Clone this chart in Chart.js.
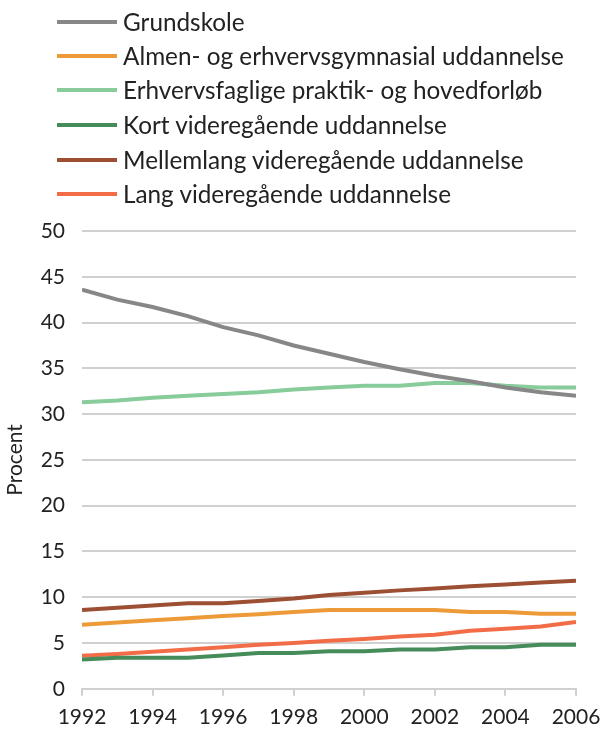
<!DOCTYPE html>
<html>
<head>
<meta charset="utf-8">
<script src="https://cdn.jsdelivr.net/npm/chart.js@4/dist/chart.umd.min.js"></script>
<style>
  html, body { margin: 0; padding: 0; background: #fff; }
  #wrap { position: relative; width: 604px; height: 735px; overflow: hidden; }
  #chart { position: absolute; left: 0; top: 0; }
  .lg { position: absolute; left: 0; height: 30px; font-family: Lato, sans-serif; font-size: 24.3px; color: #222; }
  .lg .sw { position: absolute; left: 57px; width: 60px; height: 4px; top: 13px; }
  .lg .tx { position: absolute; left: 123px; top: 0; line-height: 30px; white-space: nowrap; }
</style>
</head>
<body>
<div id="wrap">
  <canvas id="chart" width="604" height="744"></canvas>
  <div id="legend"></div>
</div>
<script>
const years = [1992, 1993, 1994, 1995, 1996, 1997, 1998, 1999, 2000, 2001, 2002, 2003, 2004, 2005, 2006];
const seriesNames = [
  "Grundskole",
  "Almen- og erhvervsgymnasial uddannelse",
  "Erhvervsfaglige praktik- og hovedforløb",
  "Kort videregående uddannelse",
  "Mellemlang videregående uddannelse",
  "Lang videregående uddannelse"
];
const grundskole = [43.6, 42.5, 41.7, 40.7, 39.5, 38.6, 37.5, 36.6, 35.7, 34.9, 34.2, 33.6, 32.9, 32.4, 32.0];
const almen      = [7.0, 7.25, 7.5, 7.7, 7.95, 8.15, 8.4, 8.6, 8.6, 8.6, 8.6, 8.4, 8.4, 8.2, 8.2];
const erhverv    = [31.3, 31.5, 31.8, 32.0, 32.2, 32.4, 32.7, 32.9, 33.1, 33.1, 33.4, 33.4, 33.1, 32.9, 32.9];
const kort       = [3.2, 3.4, 3.4, 3.4, 3.65, 3.9, 3.9, 4.1, 4.1, 4.3, 4.3, 4.55, 4.55, 4.8, 4.8];
const mellemlang = [8.6, 8.85, 9.1, 9.35, 9.35, 9.6, 9.85, 10.25, 10.5, 10.75, 10.95, 11.2, 11.4, 11.6, 11.8];
const lang       = [3.6, 3.8, 4.05, 4.3, 4.55, 4.8, 5.0, 5.25, 5.45, 5.7, 5.9, 6.35, 6.55, 6.8, 7.3];
const yTicks = [0, 5, 10, 15, 20, 25, 30, 35, 40, 45, 50];
const xTicks = [1992, 1994, 1996, 1998, 2000, 2002, 2004, 2006];
const yTitle = "Procent";

const colors = ["#878787", "#EC9B38", "#87CC9A", "#468C5B", "#9C4F33", "#F26D47"];
const allValues = [grundskole, almen, erhverv, kort, mellemlang, lang];
const legendTops = [7, 41, 75, 110, 145, 179];

const datasets = allValues.map((vals, i) => ({
  label: seriesNames[i],
  data: vals.map((v, j) => ({ x: years[j], y: v })),
  borderColor: colors[i],
  backgroundColor: colors[i],
  borderWidth: 4,
  pointRadius: 0,
  tension: 0,
  fill: false
}));

// HTML legend
const lg = document.getElementById('legend');
seriesNames.forEach((n, i) => {
  const d = document.createElement('div');
  d.className = 'lg';
  d.style.top = legendTops[i] + 'px';
  const sw = document.createElement('div');
  sw.className = 'sw';
  sw.style.background = colors[i];
  const tx = document.createElement('div');
  tx.className = 'tx';
  tx.textContent = n;
  d.appendChild(sw); d.appendChild(tx);
  lg.appendChild(d);
});

const gridCol = "#d0d0d0";
const textCol = "#222222";
new Chart(document.getElementById('chart'), {
  type: 'line',
  data: { datasets },
  options: {
    responsive: false,
    animation: false,
    layout: { padding: { top: 231, right: 28, bottom: 5, left: 0 } },
    plugins: { legend: { display: false }, tooltip: { enabled: false } },
    scales: {
      x: {
        type: 'linear',
        min: xTicks[0],
        max: xTicks[xTicks.length - 1],
        afterBuildTicks: (s) => { s.ticks = xTicks.map(v => ({ value: v })); },
        afterFit: (s) => { s.paddingRight = 0; s.paddingLeft = 0; },
        ticks: {
          callback: (v) => String(v),
          color: textCol,
          font: { family: 'Lato', size: 21 },
          padding: 9,
          maxRotation: 0,
          autoSkip: false
        },
        grid: { drawOnChartArea: false, drawTicks: true, tickLength: 7, color: gridCol, lineWidth: 2 },
        border: { display: true, color: gridCol, width: 2 }
      },
      y: {
        min: 0,
        max: 50,
        afterBuildTicks: (s) => { s.ticks = yTicks.map(v => ({ value: v })); },
        afterFit: (s) => { s.width = 82; },
        ticks: {
          color: textCol,
          font: { family: 'Lato', size: 21 },
          padding: 17
        },
        grid: { color: gridCol, lineWidth: 2, drawTicks: false },
        border: { display: false },
        title: {
          display: true,
          text: yTitle,
          color: textCol,
          font: { family: 'Lato', size: 21 },
          padding: { top: 3, bottom: 0 }
        }
      }
    }
  }
});
</script>
</body>
</html>
